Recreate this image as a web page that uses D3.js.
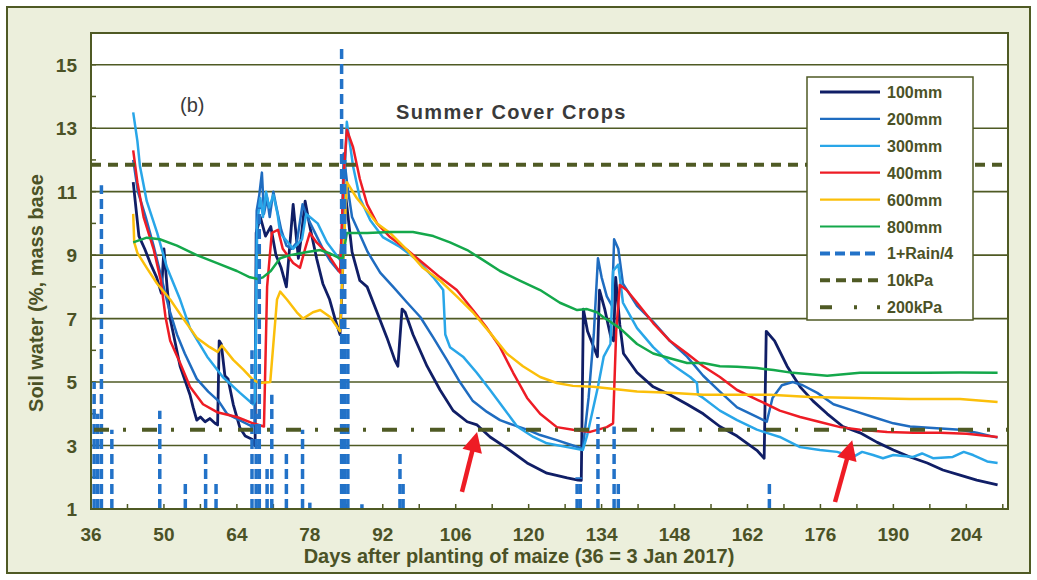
<!DOCTYPE html>
<html>
<head>
<meta charset="utf-8">
<script src="https://cdn.jsdelivr.net/npm/d3@7.9.0/dist/d3.min.js"></script>
<style>
  body { margin: 0; background: #fff; }
  svg { display: block; font-family: 'Liberation Sans', Arial, sans-serif; }
</style>
</head>
<body>
<svg id="chart" width="1037" height="580"></svg>
<script>
// soil water readings per depth, [day after planting, % mass base]
const mm100 = [[44.1,11.3],[45.2,9.6],[46.3,9.2],[47.5,8.7],[48.6,8.3],[49.5,7.8],[50.0,9.2],[50.6,8.0],[51.2,7.0],[53.1,5.5],[55.0,4.6],[55.6,4.2],[56.3,3.8],[57.0,3.9],[57.9,3.75],[58.8,3.85],[59.8,3.7],[60.3,3.65],[60.6,6.3],[61.0,6.2],[61.7,5.2],[62.3,5.1],[63.3,4.3],[64.6,3.55],[65.6,3.3],[66.9,3.2],[67.5,3.0],[67.7,9.7],[68.5,10.2],[69.5,9.6],[70.5,9.9],[71.5,9.0],[72.5,8.6],[73.5,8.0],[74.8,10.6],[75.8,8.9],[76.3,9.5],[77.1,10.7],[78.0,9.9],[79.3,8.9],[80.5,8.1],[81.8,7.6],[83.0,6.9],[83.8,6.5],[84.2,8.0],[84.8,11.0],[86.1,9.1],[87.6,8.2],[89.0,8.0],[90.9,7.2],[92.8,6.4],[94.3,5.7],[94.9,5.5],[95.7,7.3],[96.3,7.2],[97.8,6.5],[100.5,5.5],[103.0,4.75],[105.5,4.1],[108.2,3.75],[110.1,3.65],[112.6,3.27],[115.8,2.92],[119.7,2.45],[123.5,2.13],[127.4,1.98],[129.5,1.91],[130.1,1.9],[130.5,7.3],[131.3,6.6],[132.5,6.1],[133.2,5.8],[133.6,7.9],[134.6,7.3],[135.8,6.4],[136.3,6.3],[136.7,8.3],[137.5,6.8],[138.2,5.9],[140.8,5.3],[143.9,4.85],[147.1,4.6],[150.4,4.3],[153.5,4.0],[156.7,3.6],[160.0,3.3],[163.8,2.85],[165.2,2.6],[165.6,6.6],[167.2,6.3],[169.6,5.5],[172.1,4.85],[174.6,4.4],[177.3,4.0],[180.3,3.6],[183.6,3.4],[186.9,3.1],[190.0,2.86],[193.2,2.64],[196.5,2.45],[199.5,2.23],[202.8,2.07],[206.0,1.91],[210.0,1.76]];
const mm200 = [[44.1,12.0],[45.0,11.0],[46.5,10.2],[48.0,9.3],[49.5,8.3],[51.0,7.3],[52.5,6.5],[54.0,5.9],[56.3,5.1],[58.5,4.7],[60.5,4.4],[62.1,4.0],[64.5,3.8],[66.9,3.6],[67.4,3.7],[67.8,10.4],[68.3,10.9],[68.8,11.6],[69.2,10.3],[69.8,10.8],[70.3,10.2],[71.0,11.0],[71.6,10.5],[72.5,9.8],[73.5,9.3],[74.5,9.2],[75.5,9.4],[76.6,10.6],[77.5,10.2],[79.0,9.7],[80.5,9.2],[82.0,8.8],[83.5,8.5],[84.0,8.6],[84.5,12.2],[85.2,11.2],[86.1,10.2],[87.2,9.8],[89.1,9.1],[91.5,8.45],[94.0,8.0],[96.7,7.5],[99.2,7.05],[101.7,6.4],[104.3,5.7],[106.8,5.0],[109.3,4.4],[112.0,4.06],[114.5,3.8],[117.0,3.65],[119.7,3.5],[122.2,3.33],[125.4,3.17],[128.5,3.0],[130.4,2.9],[131.5,4.5],[132.5,6.5],[133.3,8.9],[134.0,8.3],[135.0,7.7],[136.0,7.4],[136.4,9.5],[137.2,9.2],[138.1,8.1],[140.8,7.4],[143.9,6.9],[147.1,6.3],[150.4,5.8],[153.5,5.2],[156.7,4.7],[160.0,4.2],[163.8,3.9],[165.7,3.75],[166.8,4.5],[168.6,4.9],[170.7,5.0],[172.6,4.9],[175.4,4.66],[178.5,4.3],[182.3,4.1],[186.1,3.9],[190.0,3.7],[193.2,3.6],[197.6,3.55],[202.8,3.5],[206.0,3.4],[210.0,3.25]];
const mm300 = [[44.1,13.5],[44.9,12.6],[45.4,11.8],[46.7,10.7],[48.7,9.7],[50.6,8.6],[53.1,7.6],[55.0,6.7],[58.3,5.8],[61.3,5.16],[64.6,4.66],[67.1,4.3],[67.5,4.4],[67.9,10.0],[68.5,10.8],[69.0,10.2],[69.6,11.0],[70.2,10.5],[71.0,10.9],[71.8,10.3],[72.3,9.7],[74.8,9.2],[76.5,9.5],[77.3,10.3],[78.0,10.2],[79.5,10.0],[81.3,9.4],[83.8,8.85],[84.2,9.5],[85.1,13.2],[86.3,11.8],[87.6,10.8],[89.6,10.1],[92.0,9.57],[95.3,9.26],[98.6,8.85],[101.7,8.3],[103.6,7.9],[104.0,6.5],[104.9,6.1],[107.4,5.8],[110.0,5.3],[112.6,4.75],[115.1,4.2],[117.8,3.6],[120.9,3.27],[123.5,3.07],[127.4,2.95],[130.4,2.86],[131.2,3.3],[133.3,4.85],[134.4,5.8],[135.7,6.2],[136.2,8.5],[137.2,8.7],[138.1,7.5],[140.8,6.7],[143.9,6.1],[147.1,5.6],[151.0,5.16],[152.3,4.97],[152.5,4.6],[153.5,4.5],[156.7,4.1],[160.0,3.8],[163.8,3.5],[165.7,3.4],[168.2,3.27],[172.1,2.95],[175.9,2.86],[179.2,2.8],[182.3,2.64],[184.0,2.8],[186.1,2.7],[188.0,2.6],[190.0,2.7],[193.8,2.64],[195.5,2.75],[197.6,2.6],[201.4,2.64],[203.5,2.8],[205.3,2.7],[208.0,2.5],[210.0,2.45]];
const mm400 = [[44.1,12.3],[44.9,11.3],[46.1,10.2],[48.0,9.2],[49.4,8.2],[50.3,7.05],[51.2,6.3],[53.1,5.6],[55.0,4.85],[57.5,4.3],[60.2,4.05],[64.0,3.9],[67.1,3.7],[69.2,3.6],[69.8,8.0],[70.7,9.7],[71.9,9.8],[72.8,9.2],[74.8,8.75],[76.1,8.6],[77.1,9.2],[78.0,9.7],[79.3,9.4],[81.3,9.07],[83.2,8.6],[83.8,8.45],[84.5,11.5],[85.1,12.95],[86.3,12.4],[87.6,11.4],[89.0,10.6],[90.9,10.0],[93.4,9.57],[96.7,9.16],[99.7,8.75],[103.0,8.3],[106.2,7.9],[109.3,7.27],[112.0,6.7],[114.5,6.1],[117.0,5.3],[119.7,4.5],[122.2,4.0],[125.4,3.58],[128.5,3.5],[131.8,3.43],[135.0,3.58],[136.2,3.7],[136.8,6.6],[137.5,8.06],[138.8,7.9],[140.8,7.5],[143.9,6.86],[147.1,6.3],[150.4,5.9],[153.5,5.5],[156.7,5.16],[160.0,4.75],[163.8,4.45],[168.2,4.1],[172.1,3.9],[175.9,3.74],[179.8,3.58],[183.6,3.5],[188.8,3.43],[193.8,3.4],[199.0,3.4],[204.1,3.37],[210.0,3.27]];
const mm600 = [[44.1,10.3],[44.3,9.4],[44.9,9.07],[46.7,8.6],[48.7,8.1],[51.2,7.6],[53.7,7.0],[56.3,6.4],[58.8,6.1],[60.3,5.95],[61.1,6.15],[63.3,5.7],[65.2,5.4],[67.1,5.07],[68.4,4.97],[70.4,5.0],[71.7,7.6],[72.3,7.85],[73.6,7.6],[75.5,7.2],[76.7,7.0],[78.6,7.2],[80.0,7.27],[81.9,7.05],[83.8,6.6],[84.3,8.5],[85.1,11.3],[87.0,10.8],[89.0,10.4],[90.9,10.0],[93.4,9.7],[96.7,9.16],[99.7,8.6],[103.0,8.2],[106.2,7.7],[109.3,7.2],[112.6,6.55],[115.8,5.9],[118.9,5.5],[122.2,5.16],[125.4,4.97],[128.5,4.88],[132.4,4.85],[140.8,4.7],[147.1,4.66],[153.5,4.6],[160.0,4.6],[166.3,4.6],[174.0,4.53],[183.6,4.5],[193.2,4.47],[202.8,4.47],[210.0,4.37]];
const mm800 = [[44.1,9.4],[46.7,9.55],[49.2,9.5],[52.5,9.3],[56.3,9.0],[60.2,8.75],[64.0,8.5],[66.5,8.3],[68.0,8.25],[69.0,8.3],[70.5,8.5],[72.3,8.9],[74.2,9.0],[77.5,9.1],[80.0,9.16],[81.9,9.05],[83.8,8.9],[84.3,8.9],[85.1,9.7],[89.0,9.7],[93.4,9.73],[97.8,9.73],[101.7,9.6],[104.9,9.4],[108.2,9.16],[111.2,8.85],[114.5,8.5],[118.3,8.2],[122.2,7.9],[126.0,7.5],[129.3,7.27],[131.2,7.3],[133.1,7.2],[134.3,7.05],[137.5,6.7],[140.8,6.2],[143.9,5.9],[147.1,5.75],[150.4,5.6],[153.5,5.6],[156.7,5.5],[160.0,5.48],[163.8,5.44],[167.0,5.38],[170.7,5.29],[177.3,5.2],[183.6,5.29],[190.0,5.29],[196.5,5.29],[202.8,5.3],[210.0,5.29]];

// rain events drawn as 1 + Rain/4
const rainDays = [36.6, 37.3, 38.0, 40.0, 49.2, 54.1, 58.0, 60.0, 66.9, 67.7, 68.3, 69.8, 70.7, 73.5, 76.6, 78.0, 84.1, 84.7, 85.3, 88.0, 95.3, 95.9, 129.3, 129.9, 133.3, 136.4, 137.2, 166.2];
const rainTop = [5.0, 4.0, 11.2, 3.5, 4.1, 1.9, 2.8, 1.8, 6.0, 4.0, 10.5, 2.3, 4.6, 2.8, 3.5, 1.2, 15.56, 12.0, 6.7, 1.15, 2.8, 1.9, 2.0, 2.0, 3.9, 3.6, 1.9, 1.8];

const kPa10 = 11.85;
const kPa200 = 3.5;

const xTicks = [36, 50, 64, 78, 92, 106, 120, 134, 148, 162, 176, 190, 204];
const yTicks = [1, 3, 5, 7, 9, 11, 13, 15];

const seriesNames = ['100mm', '200mm', '300mm', '400mm', '600mm', '800mm'];
const seriesData = [mm100, mm200, mm300, mm400, mm600, mm800];
const seriesColors = ['#101e66', '#1f6cc0', '#29a6e8', '#ee1c25', '#fbbf0a', '#14a84b'];

// red arrows marking where the 100mm curve crosses 200kPa
const arrowTails = [[107.2, 1.54], [178.8, 1.22]];
const arrowTips = [[110.1, 3.43], [182.1, 3.17]];

const olive = '#4f5a24';
const textCol = '#4b5226';
const rainCol = '#2272c8';

const x = d3.scaleLinear().domain([36, 212]).range([91, 1008]);
const y = d3.scaleLinear().domain([1, 16]).range([509, 33]);

const svg = d3.select('#chart');

svg.append('rect')
  .attr('x', 7).attr('y', 7).attr('width', 1023).attr('height', 566)
  .attr('fill', '#ecefdc').attr('stroke', olive).attr('stroke-width', 2);

svg.append('rect')
  .attr('x', x(36)).attr('y', y(16))
  .attr('width', x(212) - x(36)).attr('height', y(1) - y(16))
  .attr('fill', '#fff');

// gridlines
svg.append('g').selectAll('line')
  .data(yTicks.slice(1))
  .join('line')
  .attr('x1', x(36)).attr('x2', x(212))
  .attr('y1', d => y(d)).attr('y2', d => y(d))
  .attr('stroke', olive).attr('stroke-width', 1.6);

// minor ticks
svg.append('g').selectAll('line')
  .data(d3.range(2, 16))
  .join('line')
  .attr('x1', x(36)).attr('x2', x(36) + 5)
  .attr('y1', d => y(d)).attr('y2', d => y(d))
  .attr('stroke', olive).attr('stroke-width', 1.5);

svg.append('g').selectAll('line')
  .data(d3.range(43, 212, 7))
  .join('line')
  .attr('x1', d => x(d)).attr('x2', d => x(d))
  .attr('y1', y(1)).attr('y2', y(1) - 5)
  .attr('stroke', olive).attr('stroke-width', 1.5);

// series
const line = d3.line().x(d => x(d[0])).y(d => y(d[1]));
seriesData.forEach((s, i) => {
  svg.append('path')
    .datum(s)
    .attr('d', line)
    .attr('fill', 'none')
    .attr('stroke', seriesColors[i])
    .attr('stroke-width', i === 0 ? 2.8 : 2.5)
    .attr('stroke-linejoin', 'round');
});

// rain
svg.append('g').selectAll('line')
  .data(rainDays)
  .join('line')
  .attr('x1', d => x(d)).attr('x2', d => x(d))
  .attr('y1', y(1)).attr('y2', (d, i) => y(rainTop[i]))
  .attr('stroke', rainCol).attr('stroke-width', 3.5)
  .attr('stroke-dasharray', '10,5');

// suction reference levels
svg.append('line')
  .attr('x1', x(36)).attr('x2', x(212))
  .attr('y1', y(kPa10)).attr('y2', y(kPa10))
  .attr('stroke', olive).attr('stroke-width', 4)
  .attr('stroke-dasharray', '10,7');

svg.append('line')
  .attr('x1', x(36) + 3).attr('x2', x(212))
  .attr('y1', y(kPa200)).attr('y2', y(kPa200))
  .attr('stroke', olive).attr('stroke-width', 4)
  .attr('stroke-dasharray', '15,14,3,16');

// plot border
svg.append('rect')
  .attr('x', x(36)).attr('y', y(16))
  .attr('width', x(212) - x(36)).attr('height', y(1) - y(16))
  .attr('fill', 'none').attr('stroke', olive).attr('stroke-width', 2);

// tick labels
svg.append('g').selectAll('text')
  .data(yTicks)
  .join('text')
  .attr('x', x(36) - 14).attr('y', d => y(d) + 7)
  .attr('text-anchor', 'end')
  .attr('font-size', 19).attr('font-weight', 'bold')
  .attr('fill', textCol)
  .text(d => d);

svg.append('g').selectAll('text')
  .data(xTicks)
  .join('text')
  .attr('x', d => x(d)).attr('y', 541)
  .attr('text-anchor', 'middle')
  .attr('font-size', 19).attr('font-weight', 'bold')
  .attr('fill', textCol)
  .text(d => d);

svg.append('text')
  .attr('x', 519).attr('y', 563)
  .attr('text-anchor', 'middle')
  .attr('font-size', 20).attr('font-weight', 'bold')
  .attr('fill', textCol)
  .text('Days after planting of maize (36 = 3 Jan 2017)');

svg.append('text')
  .attr('transform', 'translate(43,293) rotate(-90)')
  .attr('text-anchor', 'middle')
  .attr('font-size', 20).attr('font-weight', 'bold')
  .attr('fill', textCol)
  .text('Soil water (%, mass base');

svg.append('text')
  .attr('x', 396).attr('y', 119)
  .attr('font-size', 20).attr('font-weight', 'bold')
  .attr('letter-spacing', 1.4)
  .attr('fill', '#3a3a3a')
  .text('Summer Cover Crops');

svg.append('text')
  .attr('x', 180).attr('y', 112)
  .attr('font-size', 20)
  .attr('fill', '#3a3a3a')
  .text('(b)');

// legend
const legendNames = [...seriesNames, '1+Rain/4', '10kPa', '200kPa'];
const legendStroke = [...seriesColors, rainCol, olive, olive];
const legendWidth = [3, 2.2, 2.2, 2.2, 2.2, 2.2, 4, 4, 4];
const legendDash = [null, null, null, null, null, null, '10,5', '10,6', '12,22,3,20'];

const legend = svg.append('g');
legend.append('rect')
  .attr('x', 807).attr('y', 77).attr('width', 166).attr('height', 243)
  .attr('fill', '#fff').attr('stroke', olive).attr('stroke-width', 1.5);

const rows = legend.selectAll('g')
  .data(legendNames)
  .join('g')
  .attr('transform', (d, i) => `translate(0, ${92 + i * 26.9})`);

rows.append('line')
  .attr('x1', 820).attr('x2', 880)
  .attr('stroke', (d, i) => legendStroke[i])
  .attr('stroke-width', (d, i) => legendWidth[i])
  .attr('stroke-dasharray', (d, i) => legendDash[i]);

rows.append('text')
  .attr('x', 887).attr('y', 6)
  .attr('font-size', 16).attr('font-weight', 'bold')
  .attr('fill', textCol)
  .text(d => d);

// arrows
const arrows = svg.append('g');
arrowTails.forEach((t, i) => {
  const x0 = x(t[0]), y0 = y(t[1]);
  const x1 = x(arrowTips[i][0]), y1 = y(arrowTips[i][1]);
  const len = Math.hypot(x1 - x0, y1 - y0);
  const ux = (x1 - x0) / len, uy = (y1 - y0) / len;
  const bx = x1 - ux * 20, by = y1 - uy * 20;
  arrows.append('line')
    .attr('x1', x0).attr('y1', y0).attr('x2', bx + ux * 2).attr('y2', by + uy * 2)
    .attr('stroke', '#ee1c25').attr('stroke-width', 4.5);
  arrows.append('path')
    .attr('d', `M${x1},${y1}L${bx - uy * 10},${by + ux * 10}L${bx + uy * 10},${by - ux * 10}Z`)
    .attr('fill', '#ee1c25');
});
</script>
</body>
</html>
